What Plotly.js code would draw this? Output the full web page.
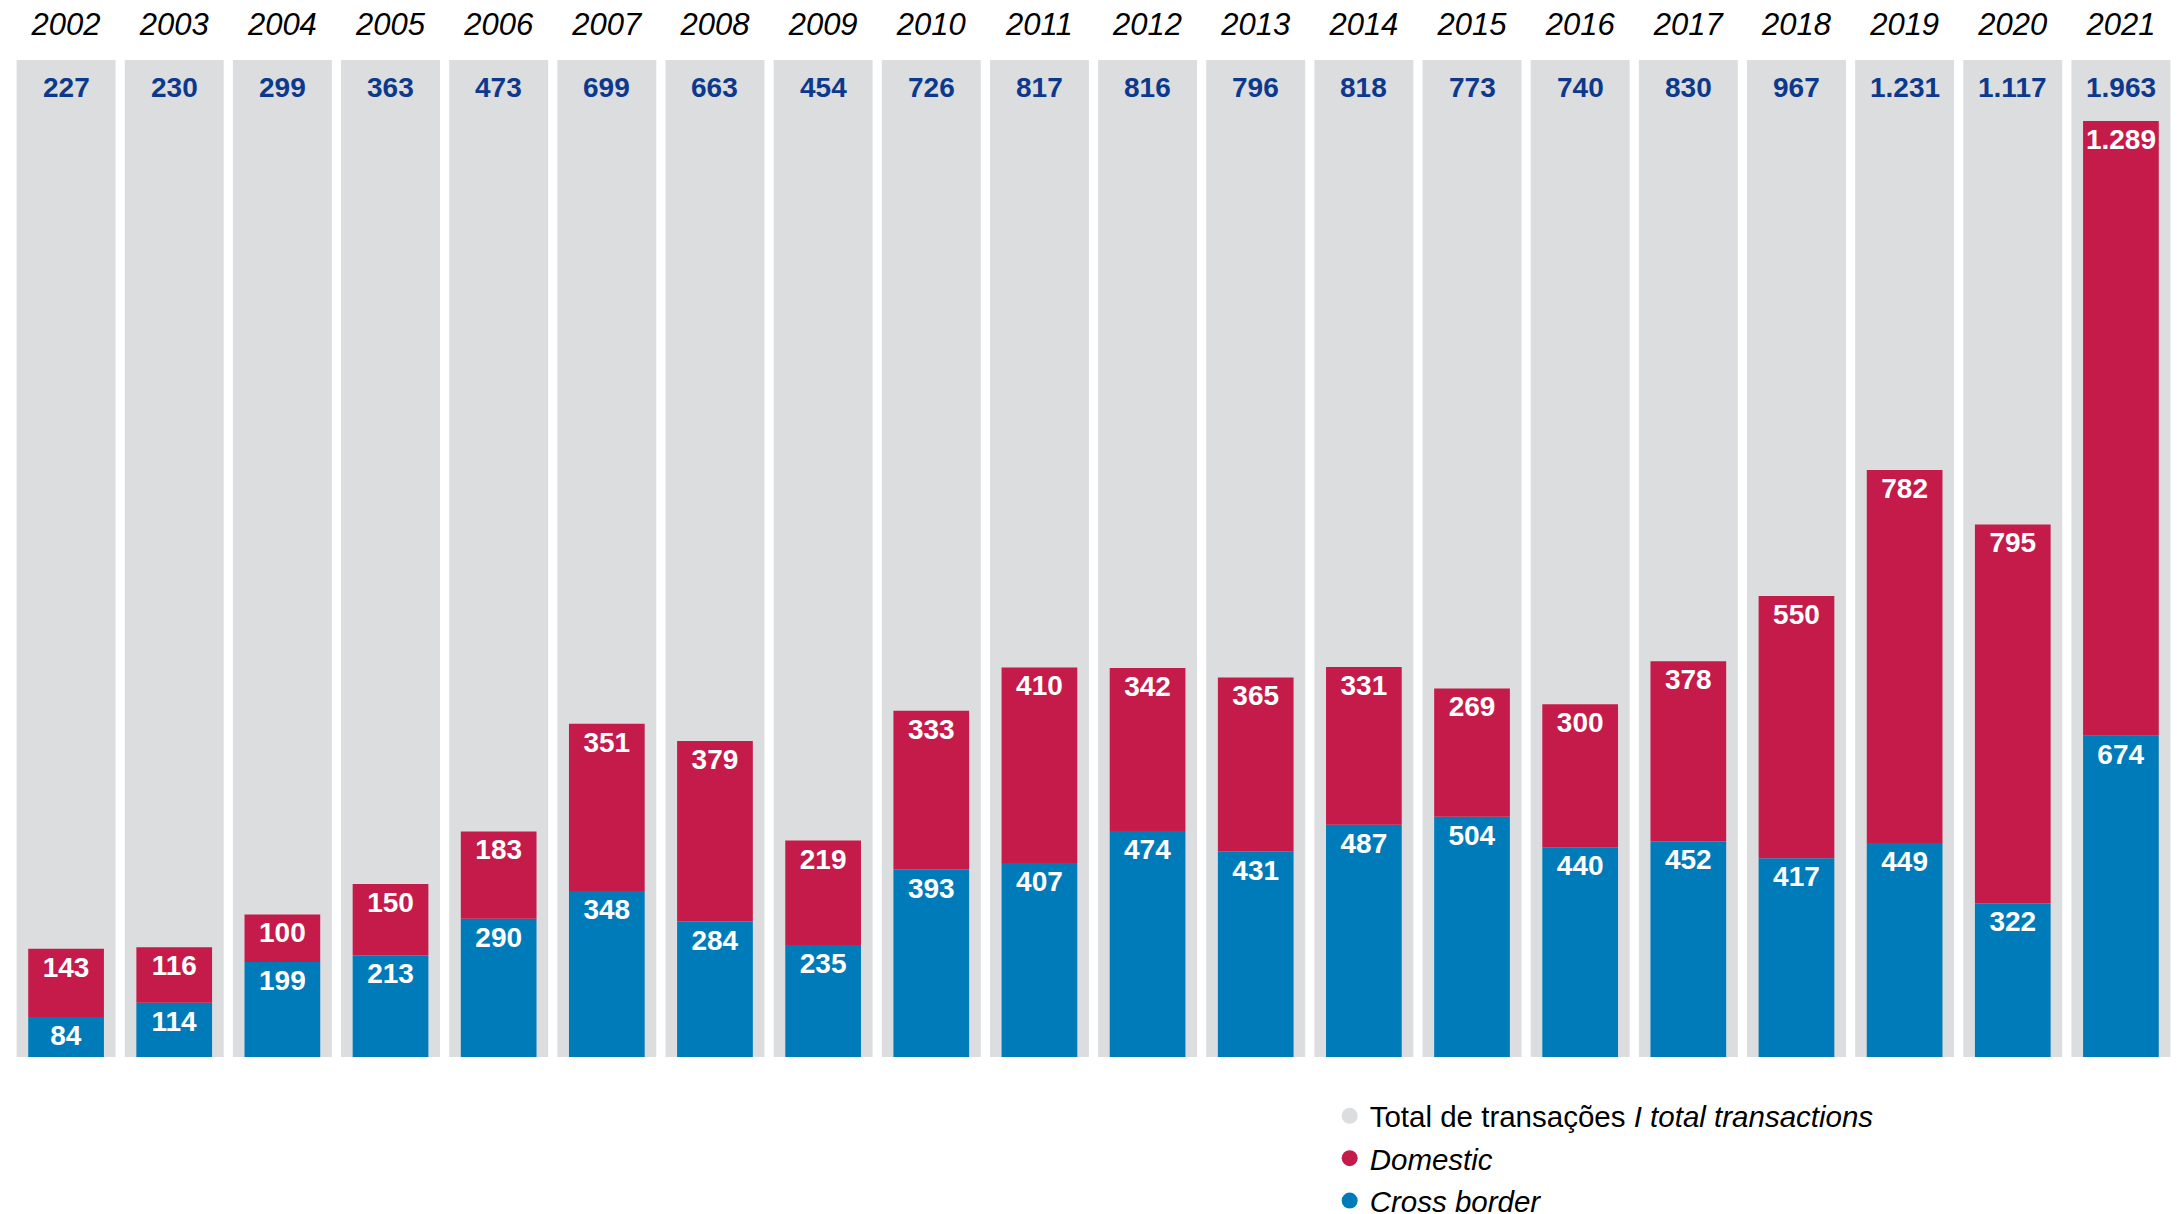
<!DOCTYPE html>
<html>
<head>
<meta charset="utf-8">
<script src="https://cdn.plot.ly/plotly-3.0.1.min.js"></script>
<style>html,body{margin:0;padding:0;background:#fff;}#chart{width:2178px;height:1214px;}</style>
</head>
<body>
<div id="chart"></div>
<script>
const years = ['2002','2003','2004','2005','2006','2007','2008','2009','2010','2011','2012','2013','2014','2015','2016','2017','2018','2019','2020','2021'];
const totalTransactions = [227,230,299,363,473,699,663,454,726,817,816,796,818,773,740,830,967,1231,1117,1963];
const domestic = [143,116,100,150,183,351,379,219,333,410,342,365,331,269,300,378,550,782,795,1289];
const crossBorder = [84,114,199,213,290,348,284,235,393,407,474,431,487,504,440,452,417,449,322,674];
const backgroundFull = years.map(() => 1);

const COL_GREY = '#dcdddf';
const COL_RED = '#c51b4a';
const COL_BLUE = '#007bba';
const COL_TOTAL = '#0d398c';
const FONT = 'Liberation Sans, Arial, Helvetica, sans-serif';

function fmt(v){ return String(v).replace(/\B(?=(\d{3})+(?!\d))/g, '.'); }

const traces = [
  {
    type: 'bar', x: years, y: backgroundFull, yaxis: 'y', width: 0.915,
    marker: {color: COL_GREY}, showlegend: false, hoverinfo: 'skip'
  },
  {
    type: 'bar', x: years, y: crossBorder, yaxis: 'y2', width: 0.70,
    marker: {color: COL_BLUE}, showlegend: false,
    text: crossBorder.map(fmt), textposition: 'inside', insidetextanchor: 'end',
    textangle: 0, textfont: {family: FONT, size: 28, color: '#ffffff', weight: 'bold'}
  },
  {
    type: 'bar', x: years, y: domestic, base: crossBorder, yaxis: 'y2', width: 0.70,
    marker: {color: COL_RED}, showlegend: false,
    text: domestic.map(fmt), textposition: 'inside', insidetextanchor: 'end',
    textangle: 0, textfont: {family: FONT, size: 28, color: '#ffffff', weight: 'bold'}
  },
  {
    type: 'scatter', mode: 'markers', x: [years[0]], y: [null], yaxis: 'y2',
    name: 'Total de transações <i>I total transactions</i>', legendgroup: 'g1',
    marker: {color: COL_GREY, size: 16, symbol: 'circle'}
  },
  {
    type: 'scatter', mode: 'markers', x: [years[0]], y: [null], yaxis: 'y2',
    name: '<i>Domestic</i>', legendgroup: 'g2',
    marker: {color: COL_RED, size: 16, symbol: 'circle'}
  },
  {
    type: 'scatter', mode: 'markers', x: [years[0]], y: [null], yaxis: 'y2',
    name: '<i>Cross border</i>', legendgroup: 'g3',
    marker: {color: COL_BLUE, size: 16, symbol: 'circle'}
  }
];

const annotations = years.map((yr, i) => ({
  x: i, y: 1, xref: 'x', yref: 'paper', yanchor: 'top', yshift: -10,
  text: fmt(totalTransactions[i]), showarrow: false,
  font: {family: FONT, size: 28, color: COL_TOTAL, weight: 'bold'}
}));

const layout = {
  width: 2178, height: 1214,
  margin: {l: 12, r: 3, t: 60, b: 157, autoexpand: false},
  paper_bgcolor: '#ffffff', plot_bgcolor: '#ffffff',
  barmode: 'overlay',
  uniformtext: {mode: 'show', minsize: 28},
  font: {family: FONT, color: '#000'},
  xaxis: {
    type: 'category', categoryorder: 'array', categoryarray: years,
    range: [-0.5, years.length - 0.5], autorange: false,
    side: 'top', showgrid: false, zeroline: false, showline: false,
    ticks: '', ticklabelstandoff: 18,
    tickfont: {family: FONT, size: 31, color: '#000', style: 'italic'}
  },
  yaxis: {range: [0, 1], autorange: false, visible: false, fixedrange: true},
  yaxis2: {range: [0, 2091], autorange: false, overlaying: 'y', visible: false, fixedrange: true},
  showlegend: true,
  legend: {
    xref: 'container', yref: 'container',
    x: 0.6105, xanchor: 'left', y: 0.102, yanchor: 'top',
    font: {family: FONT, size: 29.5, color: '#000'},
    bgcolor: 'rgba(0,0,0,0)', itemwidth: 30, tracegroupgap: 1
  },
  annotations: annotations
};

Plotly.newPlot('chart', traces, layout, {displayModeBar: false, staticPlot: true});
</script>
</body>
</html>
